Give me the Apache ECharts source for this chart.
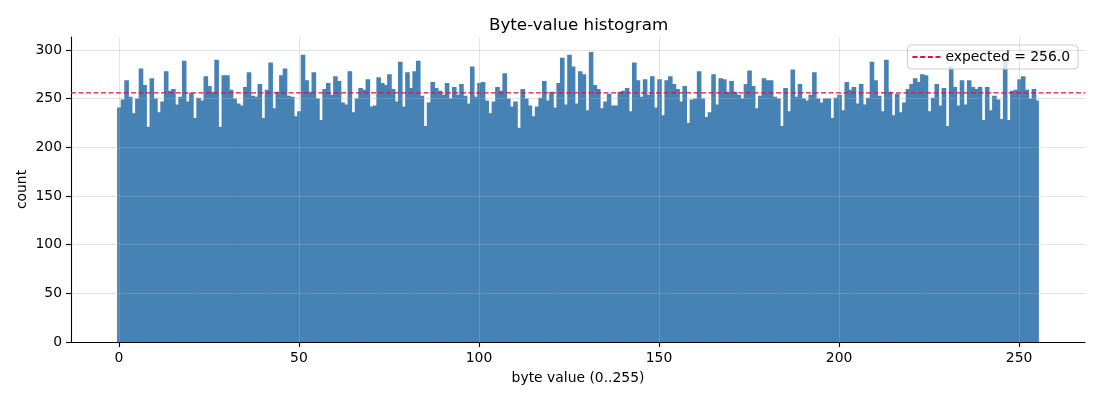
<!DOCTYPE html>
<html>
<head>
<meta charset="utf-8">
<script src="https://cdn.jsdelivr.net/npm/echarts@6/dist/echarts.min.js"></script>
<style>
html,body{margin:0;padding:0;background:#fff;}
#chart{width:1100px;height:400px;}
</style>
</head>
<body>
<div id="chart"></div>
<script>
// ---- data ----
const TITLE = 'Byte-value histogram';
const X_LABEL = 'byte value (0..255)';
const Y_LABEL = 'count';
const EXPECTED = 256.0;
const LEGEND_LABEL = 'expected = 256.0';
const counts = [
  241,249,269,252,235,250,281,264,221,271,250,236,247,278,258,260,
  244,252,289,247,256,230,251,248,273,263,257,290,221,274,274,259,
  250,245,243,262,277,253,252,265,230,259,287,240,257,274,281,253,
  252,232,237,295,269,257,277,250,228,260,266,254,273,268,246,244,
  278,236,250,261,259,270,242,243,272,266,264,275,260,247,288,242,
  277,261,278,289,253,222,246,267,261,258,254,266,250,262,254,265,
  253,245,283,252,266,267,248,235,247,262,258,276,250,242,247,220,
  260,250,243,232,242,251,268,248,257,241,266,292,244,295,283,245,
  278,275,238,298,264,260,240,247,255,243,243,257,258,261,237,287,
  269,252,270,254,273,241,270,233,269,273,265,260,247,263,225,249,
  250,278,250,231,236,275,244,271,270,257,268,257,254,250,265,279,
  263,240,253,271,269,269,252,250,222,261,237,280,252,265,250,248,
  254,277,250,246,250,250,230,251,254,238,267,259,262,245,265,244,
  251,288,269,253,237,290,257,233,255,236,246,260,265,271,267,275,
  274,237,251,265,243,261,222,283,262,243,269,244,269,262,260,262,
  228,262,238,253,249,229,290,228,258,259,270,273,259,250,260,248
];
const xTicks = [0, 50, 100, 150, 200, 250];
const yTicks = [0, 50, 100, 150, 200, 250, 300];
const X_MIN = -13.3, X_MAX = 268.3, Y_MAX = 313.3;

// ---- chart ----
const chart = echarts.init(document.getElementById('chart'), null, {renderer: 'canvas'});
const FONT = 'DejaVu Sans';
const histData = counts.map((c, i) => [i, c]);

const gridMarks = [];
xTicks.forEach(v => gridMarks.push({xAxis: v}));
yTicks.filter(v => v > 0).forEach(v => gridMarks.push({yAxis: v}));

const option = {
  animation: false,
  backgroundColor: '#ffffff',
  textStyle: {fontFamily: FONT},
  title: {
    text: TITLE,
    left: 484,
    top: 12,
    textStyle: {fontFamily: FONT, fontSize: 16.7, fontWeight: 'normal', color: '#000'}
  },
  grid: {left: 71, right: 15, top: 37, bottom: 58, containLabel: false},
  legend: {
    right: 22,
    top: 45,
    orient: 'vertical',
    backgroundColor: 'rgba(255,255,255,0.8)',
    borderColor: '#cccccc',
    borderWidth: 1,
    borderRadius: 4,
    padding: [5, 8, 5, 5],
    itemWidth: 28,
    itemHeight: 2,
    itemGap: 10,
    textStyle: {fontFamily: FONT, fontSize: 13.9, color: '#000'},
    data: [{
      name: LEGEND_LABEL,
      icon: 'path://M0,0h5v2h-5z M7.7,0h5v2h-5z M15.4,0h5v2h-5z M23,0h5v2h-5z',
      itemStyle: {color: '#dc143c'}
    }]
  },
  xAxis: {
    type: 'value',
    min: X_MIN,
    max: X_MAX,
    name: X_LABEL,
    nameLocation: 'middle',
    nameGap: 29,
    nameMoveOverlap: false,
    nameTextStyle: {fontFamily: FONT, fontSize: 13.9, color: '#000', verticalAlign: 'top'},
    axisLine: {show: true, onZero: false, lineStyle: {color: '#000', width: 1.1}},
    axisTick: {show: true, inside: false, length: 5, lineStyle: {color: '#000', width: 1.1}, customValues: xTicks},
    axisLabel: {show: true, margin: 9, fontFamily: FONT, fontSize: 13.9, color: '#000', customValues: xTicks},
    splitLine: {show: false}
  },
  yAxis: {
    type: 'value',
    min: 0,
    max: Y_MAX,
    name: Y_LABEL,
    nameLocation: 'middle',
    nameGap: 42,
    nameMoveOverlap: false,
    nameRotate: 90,
    nameTextStyle: {fontFamily: FONT, fontSize: 13.9, color: '#000'},
    axisLine: {show: true, onZero: false, lineStyle: {color: '#000', width: 1.1}},
    axisTick: {show: true, inside: false, length: 5, lineStyle: {color: '#000', width: 1.1}, customValues: yTicks},
    axisLabel: {show: true, margin: 9, fontFamily: FONT, fontSize: 13.9, color: '#000', customValues: yTicks},
    splitLine: {show: false}
  },
  series: [
    {
      name: 'counts',
      type: 'custom',
      data: histData,
      encode: {x: 0, y: 1},
      z: 2,
      renderItem: function (params, api) {
        const i = api.value(0);
        const v = api.value(1);
        const p0 = api.coord([i - 0.5, v]);
        const p1 = api.coord([i + 0.5, 0]);
        const overlap = params.dataIndex < counts.length - 1 ? 1 : 0;
        return {
          type: 'rect',
          shape: {x: p0[0], y: p0[1], width: p1[0] - p0[0] + overlap, height: p1[1] - p0[1]},
          style: {fill: '#4682b4'}
        };
      },
      markLine: {
        silent: true,
        symbol: ['none', 'none'],
        label: {show: false},
        lineStyle: {type: 'solid', color: 'rgba(176,176,176,0.35)', width: 1},
        data: gridMarks,
        z: 5
      }
    },
    {
      name: LEGEND_LABEL,
      type: 'custom',
      data: [[X_MIN, EXPECTED, X_MAX]],
      encode: {x: [0, 2], y: 1},
      itemStyle: {color: '#dc143c'},
      z: 6,
      renderItem: function (params, api) {
        const a = api.coord([api.value(0), api.value(1)]);
        const b = api.coord([api.value(2), api.value(1)]);
        return {
          type: 'line',
          shape: {x1: a[0], y1: a[1], x2: b[0], y2: b[1]},
          style: {stroke: '#dc143c', lineWidth: 1.2, lineDash: [5, 2.5], fill: null}
        };
      }
    }
  ]
};
chart.setOption(option);
</script>
</body>
</html>
